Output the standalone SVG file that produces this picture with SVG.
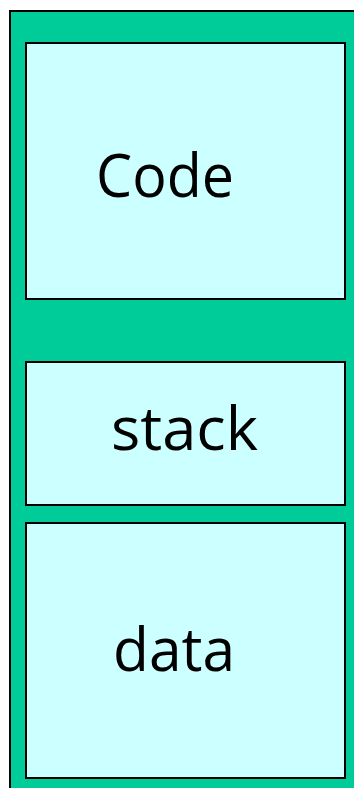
<svg xmlns="http://www.w3.org/2000/svg" width="354" height="788" viewBox="0 0 354 788">
<style>
.outer{fill:#00CC99;stroke:#000;stroke-width:2}
.box{fill:#CCFFFF;stroke:#000;stroke-width:2}
.lbl{font-family:"Open Sans","DejaVu Sans",sans-serif;font-size:60px;fill:#000}
</style>
<rect width="354" height="788" fill="#fff"/>
<g id="memory">
<rect class="outer" x="10" y="11" width="360" height="800"/>
</g>
<g id="code">
<rect class="box" x="26" y="43" width="319" height="256"/>
<text class="lbl" x="96" y="197" textLength="138" lengthAdjust="spacingAndGlyphs">Code</text>
</g>
<g id="stack">
<rect class="box" x="26" y="362" width="319" height="143"/>
<text class="lbl" x="111" y="450" textLength="147" lengthAdjust="spacingAndGlyphs">stack</text>
</g>
<g id="data">
<rect class="box" x="26" y="523" width="319" height="255"/>
<text class="lbl" x="113" y="671" textLength="122" lengthAdjust="spacingAndGlyphs">data</text>
</g>
<g id="connectors"></g>
</svg>
